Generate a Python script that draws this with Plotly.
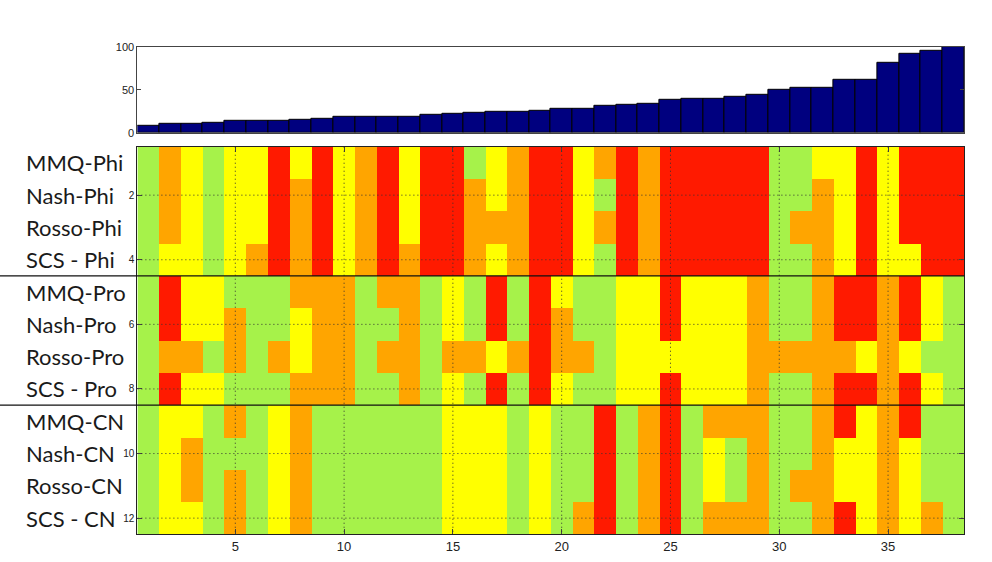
import plotly.graph_objects as go

# ---------------- data ----------------
categories = list(range(1, 39))
bar_values = [8, 10, 10, 11, 14, 14, 14, 15.5, 16.5, 19, 19, 19, 19, 21, 22, 23, 24, 24, 25,
              28, 28, 31, 32.5, 33.5, 38, 39, 39, 42, 44, 50, 52, 52, 62, 62, 81, 92, 95.5, 100]
bar_ticks = [0, 50, 100]

row_labels = ["MMQ-Phi", "Nash-Phi", "Rosso-Phi", "SCS - Phi",
              "MMQ-Pro", "Nash-Pro", "Rosso-Pro", "SCS - Pro",
              "MMQ-CN", "Nash-CN", "Rosso-CN", "SCS - CN"]
row_index = list(range(1, 13))

# G = green, Y = yellow, O = orange, R = red (one letter per column 1..38)
rating_rows = [
    "GOYGYYRYRY" "ORYRRGYORR" "YORORRRRRG" "GYYRYRRR",
    "GOYGYYRORY" "ORYRROYORR" "YGRORRRRRG" "GOYRYRRR",
    "GOYGYYRORY" "ORYRROOORR" "YORORRRRRG" "OOYRYRRR",
    "GYYGYORORY" "ORORROYORR" "YGRORRRRRG" "GOYRYYRR",
    "GRYYGGGOOO" "GOOGYGRGRY" "GGYYRYYYOG" "GORRORYG",
    "GRYYOGGYOO" "GGOGYGRGRO" "GGYYRYYYOG" "GORRORYG",
    "GOOGOGOYOO" "GOOGOOYORO" "OGYYYYYYOO" "OOOYOYGG",
    "GRYYGGGOOO" "GGOGYGRGRY" "GGYYRYYYOG" "GORRORYG",
    "GYYGOGYOGG" "GGGGYYYGYG" "GRGORGOOOG" "GORYORGG",
    "GYOGGGYOGG" "GGGGYYYGYG" "GRGORGYGOG" "GOYYOYGG",
    "GYOGOGYOGG" "GGGGYYYGYG" "GRGORGYGOG" "OOYYOYGG",
    "GYYGOGYOGG" "GGGGYYYGYG" "ORGORGOOOG" "GORYOYOG",
]
level_of = {"G": 0, "Y": 1, "O": 2, "R": 3}
level_colors = ["#a6f24a", "#ffff00", "#ffa500", "#ff1a00"]

x_grid_ticks = [5, 10, 15, 20, 25, 30, 35]
y_grid_ticks = [2, 4, 6, 8, 10, 12]
group_breaks = [4.5, 8.5]

z = [[level_of[ch] for ch in row] for row in rating_rows]

# ---------------- layout geometry ----------------
W, H = 992, 562
x_dom = [137.4 / W, 964.2 / W]
bar_dom = [1 - 129.5 / H, 1 - 41.7 / H]
heat_dom = [1 - 539.8 / H, 1 - 143.8 / H]

cs = []
n = len(level_colors)
for i, c in enumerate(level_colors):
    cs.append([i / n, c])
    cs.append([(i + 1) / n, c])

fig = go.Figure()
fig.add_trace(go.Bar(
    x=categories, y=bar_values, width=1,
    marker=dict(color="#00007f", line=dict(color="#000000", width=1)),
    xaxis="x", yaxis="y", showlegend=False,
))
fig.add_trace(go.Heatmap(
    x=categories, y=row_index, z=z,
    colorscale=cs, zmin=-0.5, zmax=3.5, showscale=False,
    xaxis="x2", yaxis="y2", hoverinfo="skip",
))

tick_font = dict(family="Liberation Sans, Arial, sans-serif", color="#222222")
grid_line = dict(color="#333333", width=1, dash="1px,3px")

shapes = []
for xv in x_grid_ticks:
    shapes.append(dict(type="line", xref="x2", yref="y2", x0=xv, x1=xv, y0=0.5, y1=12.5,
                       line=grid_line, layer="above"))
for yv in y_grid_ticks:
    shapes.append(dict(type="line", xref="x2", yref="y2", x0=0.5, x1=38.5, y0=yv, y1=yv,
                       line=grid_line, layer="above"))
for yb in group_breaks:
    shapes.append(dict(type="line", xref="paper", yref="y2", x0=0, x1=x_dom[1], y0=yb, y1=yb,
                       line=dict(color="#111111", width=1.2), layer="above"))

annotations = []
for lab, yi in zip(row_labels, row_index):
    annotations.append(dict(x=24 / W, xref="paper", xanchor="left", y=yi, yref="y2",
                            yanchor="middle", text=lab, showarrow=False,
                            font=dict(family="Lato, Open Sans, sans-serif", size=22, color="#1a1a1a")))

fig.update_layout(
    width=W, height=H, margin=dict(l=0, r=0, t=0, b=0),
    paper_bgcolor="white", plot_bgcolor="white", bargap=0,
    xaxis=dict(domain=x_dom, range=[0.5, 38.5], showticklabels=False, ticks="",
               showline=True, linecolor="#444444", mirror=True, showgrid=False, zeroline=False),
    yaxis=dict(domain=bar_dom, range=[0, 100], tickvals=bar_ticks, ticks="inside", ticklen=4,
               showline=True, linecolor="#444444", mirror="ticks", showgrid=False, zeroline=False,
               tickfont=dict(size=11, **tick_font)),
    xaxis2=dict(domain=x_dom, range=[0.5, 38.5], anchor="y2", tickvals=x_grid_ticks,
                ticks="inside", ticklen=5, showline=True, linecolor="#222222", mirror="ticks",
                showgrid=False, zeroline=False, tickfont=dict(size=13, **tick_font)),
    yaxis2=dict(domain=heat_dom, range=[12.5, 0.5], anchor="x2", tickvals=y_grid_ticks,
                ticks="inside", ticklen=5, showline=True, linecolor="#222222", mirror="ticks",
                showgrid=False, zeroline=False, tickfont=dict(size=10, **tick_font)),
    shapes=shapes, annotations=annotations,
)

fig.write_html("out.html", config={"displayModeBar": False},
               post_script="document.body.style.margin='0px';")
